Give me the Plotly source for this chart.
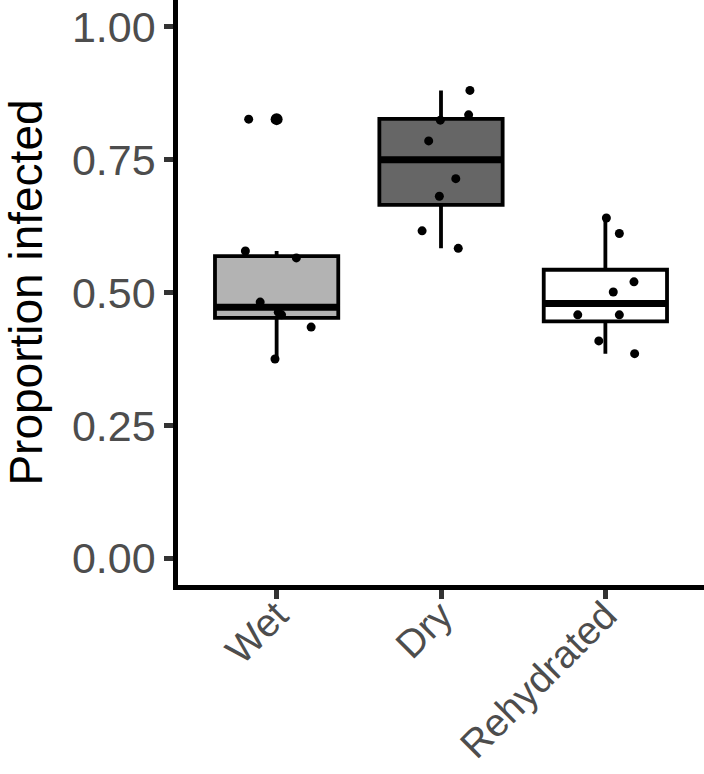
import numpy as np
import plotly.graph_objects as go

categories = ["Wet", "Dry", "Rehydrated"]
wet = [0.826, 0.578, 0.565, 0.482, 0.463, 0.458, 0.435, 0.375]
dry = [0.880, 0.834, 0.824, 0.785, 0.714, 0.681, 0.616, 0.583]
rehydrated = [0.640, 0.611, 0.520, 0.501, 0.458, 0.458, 0.409, 0.385]
# horizontal jitter offsets (category units)
wet_jitter = [-0.17, -0.19, 0.12, -0.10, 0.01, 0.03, 0.21, -0.01]
dry_jitter = [0.176, 0.168, -0.004, -0.075, 0.09, -0.01, -0.115, 0.105]
rehydrated_jitter = [0.006, 0.085, 0.174, 0.048, -0.168, 0.085, -0.04, 0.178]
fills = ["#B3B3B3", "#666666", "#FFFFFF"]

groups = [wet, dry, rehydrated]
jitters = [wet_jitter, dry_jitter, rehydrated_jitter]
box_w = 0.75

fig = go.Figure()
font = "Liberation Sans, Arial, Helvetica, sans-serif"

for i, (vals, fill) in enumerate(zip(groups, fills)):
    c = i + 1
    v = np.array(vals)
    q1, med, q3 = np.percentile(v, [25, 50, 75])
    iqr = q3 - q1
    lo_lim, hi_lim = q1 - 1.5 * iqr, q3 + 1.5 * iqr
    inside = v[(v >= lo_lim) & (v <= hi_lim)]
    lf, uf = inside.min(), inside.max()
    outl = v[(v < lo_lim) | (v > hi_lim)]
    fig.add_trace(go.Box(
        x=[c], q1=[q1], median=[med], q3=[q3], lowerfence=[lf], upperfence=[uf],
        fillcolor=fill, line=dict(color="black", width=3.8), width=box_w,
        whiskerwidth=0, boxpoints=False, showlegend=False, hoverinfo="skip"))
    fig.add_trace(go.Scatter(
        x=[c - box_w / 2, c + box_w / 2], y=[med, med], mode="lines",
        line=dict(color="black", width=7), showlegend=False, hoverinfo="skip"))
    if len(outl):
        fig.add_trace(go.Scatter(
            x=[c] * len(outl), y=outl, mode="markers",
            marker=dict(color="black", size=12), showlegend=False, hoverinfo="skip"))

for i, (vals, jit) in enumerate(zip(groups, jitters)):
    c = i + 1
    fig.add_trace(go.Scatter(
        x=[c + j for j in jit], y=vals, mode="markers",
        marker=dict(color="black", size=9), showlegend=False, hoverinfo="skip"))

fig.update_layout(
    width=704, height=774,
    margin=dict(l=178, r=0, t=0, b=189),
    plot_bgcolor="white", paper_bgcolor="white",
    font=dict(family=font),
    xaxis=dict(range=[0.4, 3.6], tickvals=[1, 2, 3], ticktext=categories,
               automargin=False,
               showline=True, linecolor="black", linewidth=4.5,
               ticks="outside", ticklen=9, tickwidth=5, tickcolor="#333333",
               tickangle=-45, ticklabelstandoff=-22,
               tickfont=dict(size=39, color="#4D4D4D", family=font),
               showgrid=False, zeroline=False),
    yaxis=dict(range=[-0.05, 1.05], tickvals=[0, 0.25, 0.5, 0.75, 1.0],
               ticktext=["0.00", "0.25", "0.50", "0.75", "1.00"],
               automargin=False,
               showline=True, linecolor="black", linewidth=4.5,
               ticks="outside", ticklen=9, tickwidth=5, tickcolor="#333333",
               tickfont=dict(size=43, color="#4D4D4D", family=font),
               title=dict(text="Proportion infected", font=dict(size=46, color="black", family=font),
                          standoff=30),
               showgrid=False, zeroline=False),
)

fig.write_html("out.html")
